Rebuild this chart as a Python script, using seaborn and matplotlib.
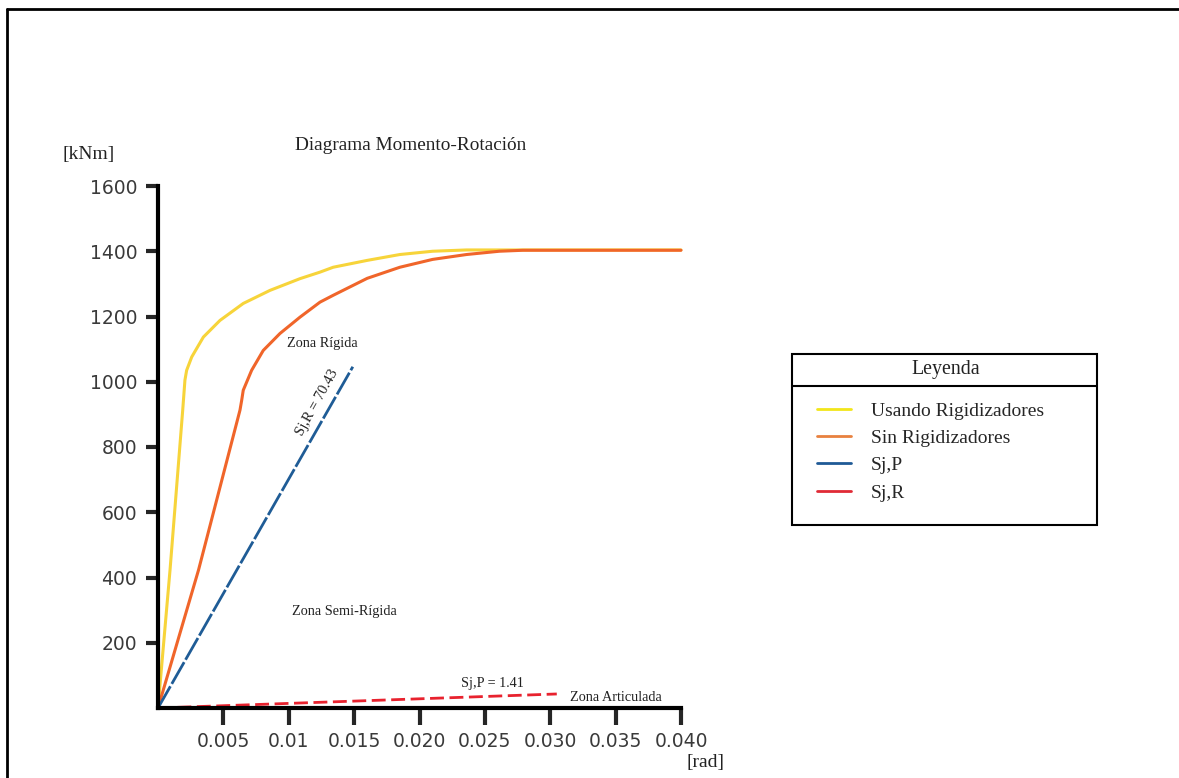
import numpy as np
import pandas as pd
import matplotlib
matplotlib.use("Agg")
import matplotlib.pyplot as plt
from matplotlib.lines import Line2D
from matplotlib.patches import Rectangle
import seaborn as sns

# curve data: rotation [rad] vs moment [kNm]
rot_con = [0.0, 0.00092, 0.00189, 0.00206, 0.00219, 0.00258, 0.00347, 0.00474, 0.00652, 0.00856,
           0.01086, 0.01239, 0.0134, 0.0160, 0.0185, 0.0210, 0.0236, 0.030, 0.040]
mom_con = [0, 423, 913, 1005, 1035, 1076, 1137, 1188, 1240, 1280,
           1316, 1336, 1351, 1372, 1390, 1400, 1404, 1404, 1404]

rot_sin = [0.0, 0.0031, 0.00627, 0.0064, 0.00652, 0.00716, 0.00805, 0.00933, 0.01086, 0.01239,
           0.0134, 0.0160, 0.0185, 0.0210, 0.0236, 0.0261, 0.0279, 0.040]
mom_sin = [0, 423, 913, 943, 974, 1035, 1096, 1148, 1198, 1244,
           1265, 1317, 1351, 1375, 1390, 1400, 1403, 1403]

rot_sjr = [0.0, 0.0149]
mom_sjr = [0, 1046]

rot_sjp = [0.0, 0.0305]
mom_sjp = [0, 43]

x_ticks = [0.005, 0.010, 0.015, 0.020, 0.025, 0.030, 0.035, 0.040]
x_labels = ["0.005", "0.01", "0.015", "0.020", "0.025", "0.030", "0.035", "0.040"]
y_ticks = [200, 400, 600, 800, 1000, 1200, 1400, 1600]

series_names = ["Usando Rigidizadores", "Sin Rigidizadores", "Sj,P", "Sj,R"]
line_colors = ["#F7D43A", "#F0652A", "#1F5C96", "#E8222E"]
legend_colors = ["#F2E61A", "#E8813F", "#1F5A96", "#E02A36"]

sns.set_style("white")
serif = ["Liberation Serif", "DejaVu Serif"]
plt.rcParams["font.family"] = ["DejaVu Sans"]

fig = plt.figure(figsize=(11.79, 7.78), dpi=100)
ax = fig.add_axes([158 / 1179, 1 - 708 / 778, 523 / 1179, 522 / 778])

df_con = pd.DataFrame({"rot": rot_con, "mom": mom_con})
df_sin = pd.DataFrame({"rot": rot_sin, "mom": mom_sin})
df_sjr = pd.DataFrame({"rot": rot_sjr, "mom": mom_sjr})
df_sjp = pd.DataFrame({"rot": rot_sjp, "mom": mom_sjp})

sns.lineplot(data=df_con, x="rot", y="mom", ax=ax, color=line_colors[0], lw=2.2,
             sort=False, clip_on=False)
sns.lineplot(data=df_sin, x="rot", y="mom", ax=ax, color=line_colors[1], lw=2.2,
             sort=False, clip_on=False)
sns.lineplot(data=df_sjr, x="rot", y="mom", ax=ax, color=line_colors[2], lw=2.0,
             clip_on=False).lines[-1].set_dashes([9, 1])
sns.lineplot(data=df_sjp, x="rot", y="mom", ax=ax, color=line_colors[3], lw=2.0,
             clip_on=False).lines[-1].set_dashes([5, 2])
for ln in ax.lines:
    ln.set_solid_joinstyle("round")

ax.set_xlim(0, 0.040)
ax.set_ylim(0, 1600)
ax.set_xticks(x_ticks)
ax.set_xticklabels(x_labels)
ax.set_yticks(y_ticks)
ax.set_xlabel("")
ax.set_ylabel("")
sns.despine(ax=ax)
for side in ["left", "bottom"]:
    ax.spines[side].set_linewidth(3.0)
    ax.spines[side].set_color("black")
ax.tick_params(axis="y", direction="out", length=9, width=3, pad=6,
               labelsize=13.5, labelcolor="#3a3a3a", left=True)
ax.tick_params(axis="x", direction="out", length=12, width=3, pad=5,
               labelsize=13.5, labelcolor="#3a3a3a", bottom=True)

# annotations
ax.text(0.01254, 1118, "Zona Rígida", family=serif, fontsize=10.3, ha="center", va="center", color="#222")
ax.text(0.01216, 935, "Sj,R = 70.43", family=serif, fontsize=10.5, ha="center", va="center",
        rotation=61, color="#222")
ax.text(0.01422, 297, "Zona Semi-Rígida", family=serif, fontsize=10.3, ha="center", va="center", color="#222")
ax.text(0.02561, 74, "Sj,P = 1.41", family=serif, fontsize=10.2, ha="center", va="center", color="#222")
ax.text(0.0350, 31, "Zona Articulada", family=serif, fontsize=10.3, ha="center", va="center", color="#222")

fig.text(411 / 1179, 1 - 145 / 778, "Diagrama Momento-Rotación", family=serif,
         fontsize=13.9, ha="center", va="center", color="#222")
fig.text(62 / 1179, 1 - 155 / 778, "[kNm]", family=serif, fontsize=14,
         ha="left", va="center", color="#222")
fig.text(705 / 1179, 1 - 763 / 778, "[rad]", family=serif, fontsize=14,
         ha="center", va="center", color="#222")

# legend box drawn by hand, entries via legend
fig.add_artist(Rectangle((792 / 1179, 1 - 525 / 778), 305 / 1179, 171 / 778,
                         transform=fig.transFigure, fill=False, ec="black", lw=1.5))
fig.add_artist(Line2D([792 / 1179, 1097 / 1179], [1 - 386 / 778] * 2,
                      transform=fig.transFigure, color="black", lw=1.5))
fig.text(946 / 1179, 1 - 370 / 778, "Leyenda", family=serif, fontsize=14.3,
         ha="center", va="center", color="#222")
handles = [Line2D([], [], color=c, lw=2) for c in legend_colors]
ax.legend(handles, series_names, loc="upper left", frameon=False,
          bbox_to_anchor=(817 / 1179, 1 - 402 / 778), bbox_transform=fig.transFigure,
          prop={"family": serif, "size": 14}, handlelength=1.75, handletextpad=1.03,
          labelspacing=0.5, borderpad=0, borderaxespad=0)

# outer frame of the picture
fig.add_artist(Line2D([7 / 1179, 7 / 1179], [0, 1 - 9 / 778], transform=fig.transFigure,
                      color="black", lw=2))
fig.add_artist(Line2D([7 / 1179, 1], [1 - 9 / 778] * 2, transform=fig.transFigure,
                      color="black", lw=2))

fig.savefig("out.png", dpi=100)
